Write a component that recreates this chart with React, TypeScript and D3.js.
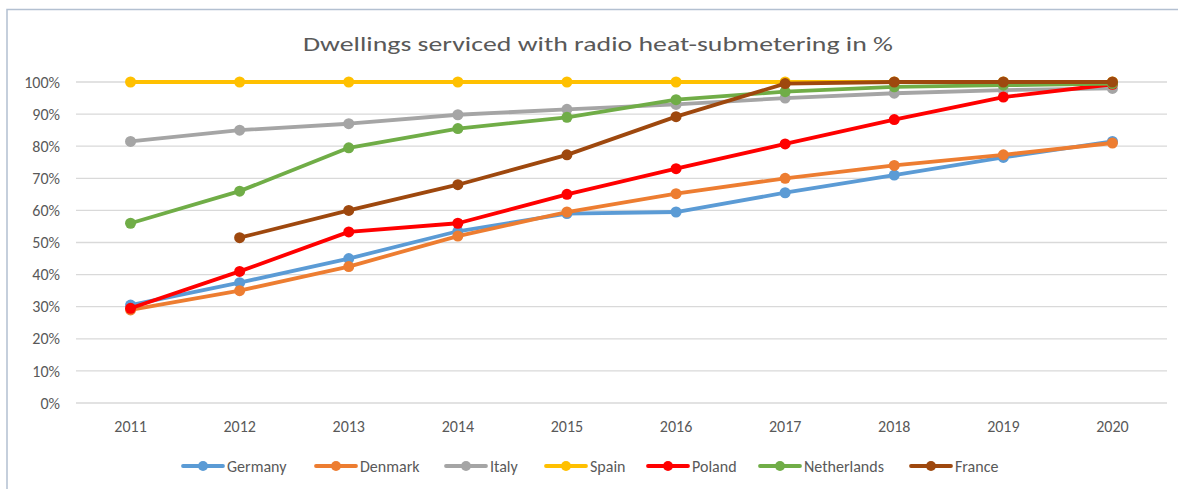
import * as d3 from "d3";

const WIDTH = 1178;
const HEIGHT = 489;
const MARGIN = { top: 82, right: 11, bottom: 86, left: 76 };

const TITLE = "Dwellings serviced with radio heat-submetering in %";
const YEARS = ["2011", "2012", "2013", "2014", "2015", "2016", "2017", "2018", "2019", "2020"];
const Y_TICKS = [0, 10, 20, 30, 40, 50, 60, 70, 80, 90, 100];

const SERIES_NAMES = ["Germany", "Denmark", "Italy", "Spain", "Poland", "Netherlands", "France"];
const COLORS = ["#5b9bd5", "#ed7d31", "#a5a5a5", "#ffc000", "#ff0000", "#70ad47", "#9e480e"];

// values in %, null = no data
const germany = [30.5, 37.5, 45, 53.5, 59, 59.5, 65.5, 71, 76.5, 81.5];
const denmark = [29, 35, 42.5, 52, 59.5, 65.2, 70, 74, 77.3, 81];
const italy = [81.5, 85, 87, 89.8, 91.5, 93, 95, 96.5, 97.5, 98];
const spain = [100, 100, 100, 100, 100, 100, 100, 100, 100, 100];
const poland = [29.5, 41, 53.3, 56, 65, 73, 80.7, 88.3, 95.3, 99.3];
const netherlands = [56, 66, 79.5, 85.5, 89, 94.5, 97, 98.5, 99, 99.5];
const france = [null, 51.5, 60, 68, 77.3, 89.2, 99.5, 100, 100, 100];

const SERIES = [germany, denmark, italy, spain, poland, netherlands, france];

const LEGEND_X = [183, 316, 446, 546, 648, 760, 911];

const FONT = "Calibri, Carlito, 'Liberation Sans', Arial, sans-serif";

export default function App() {
    const boundsWidth = WIDTH - MARGIN.left - MARGIN.right;
    const boundsHeight = HEIGHT - MARGIN.top - MARGIN.bottom;

    const xScale = d3.scaleBand<string>().domain(YEARS).range([0, boundsWidth]);
    const yScale = d3.scaleLinear().domain([0, 100]).range([boundsHeight, 0]);
    const cx = (year: string) => (xScale(year) ?? 0) + xScale.bandwidth() / 2;

    const lineGen = d3
        .line<number | null>()
        .defined((d) => d != null)
        .x((_, i) => cx(YEARS[i]))
        .y((d) => yScale(d as number));

    return (
        <svg width={WIDTH} height={HEIGHT} style={{ position: "absolute", left: 0, top: 0, fontFamily: FONT }}>
            <rect x={0} y={0} width={WIDTH} height={HEIGHT} fill="#fff" />
            <rect x={7} y={9.5} width={WIDTH + 20} height={HEIGHT + 20} fill="none" stroke="#b3c0d1" strokeWidth={1.5} />
            <text x={598} y={51} textAnchor="middle" fontSize={21} fill="#595959" textLength={590} lengthAdjust="spacingAndGlyphs">
                {TITLE}
            </text>
            <g transform={`translate(${MARGIN.left},${MARGIN.top})`}>
                {Y_TICKS.map((t) => (
                    <g key={t}>
                        <line x1={0} x2={boundsWidth} y1={yScale(t)} y2={yScale(t)} stroke="#d9d9d9" strokeWidth={1.3} />
                        <text x={-16} y={yScale(t)} dy="0.35em" textAnchor="end" fontSize={16} fill="#595959">
                            {t}%
                        </text>
                    </g>
                ))}
                {YEARS.map((y) => (
                    <text key={y} x={cx(y)} y={boundsHeight + 29} textAnchor="middle" fontSize={16} fill="#595959">
                        {y}
                    </text>
                ))}
                {SERIES.map((values, i) => (
                    <g key={SERIES_NAMES[i]}>
                        <path d={lineGen(values) ?? ""} fill="none" stroke={COLORS[i]} strokeWidth={3.8} strokeLinejoin="round" strokeLinecap="round" />
                        {values.map((v, j) =>
                            v == null ? null : (
                                <circle key={j} cx={cx(YEARS[j])} cy={yScale(v)} r={5.5} fill={COLORS[i]} />
                            )
                        )}
                    </g>
                ))}
            </g>
            <g>
                {SERIES_NAMES.map((name, i) => (
                    <g key={name} transform={`translate(${LEGEND_X[i]},466)`}>
                        <line x1={0} x2={40} y1={0} y2={0} stroke={COLORS[i]} strokeWidth={3.8} strokeLinecap="round" />
                        <circle cx={20} cy={0} r={5} fill={COLORS[i]} />
                        <text x={44} y={0} dy="0.35em" fontSize={16} fill="#595959">
                            {name}
                        </text>
                    </g>
                ))}
            </g>
        </svg>
    );
}
